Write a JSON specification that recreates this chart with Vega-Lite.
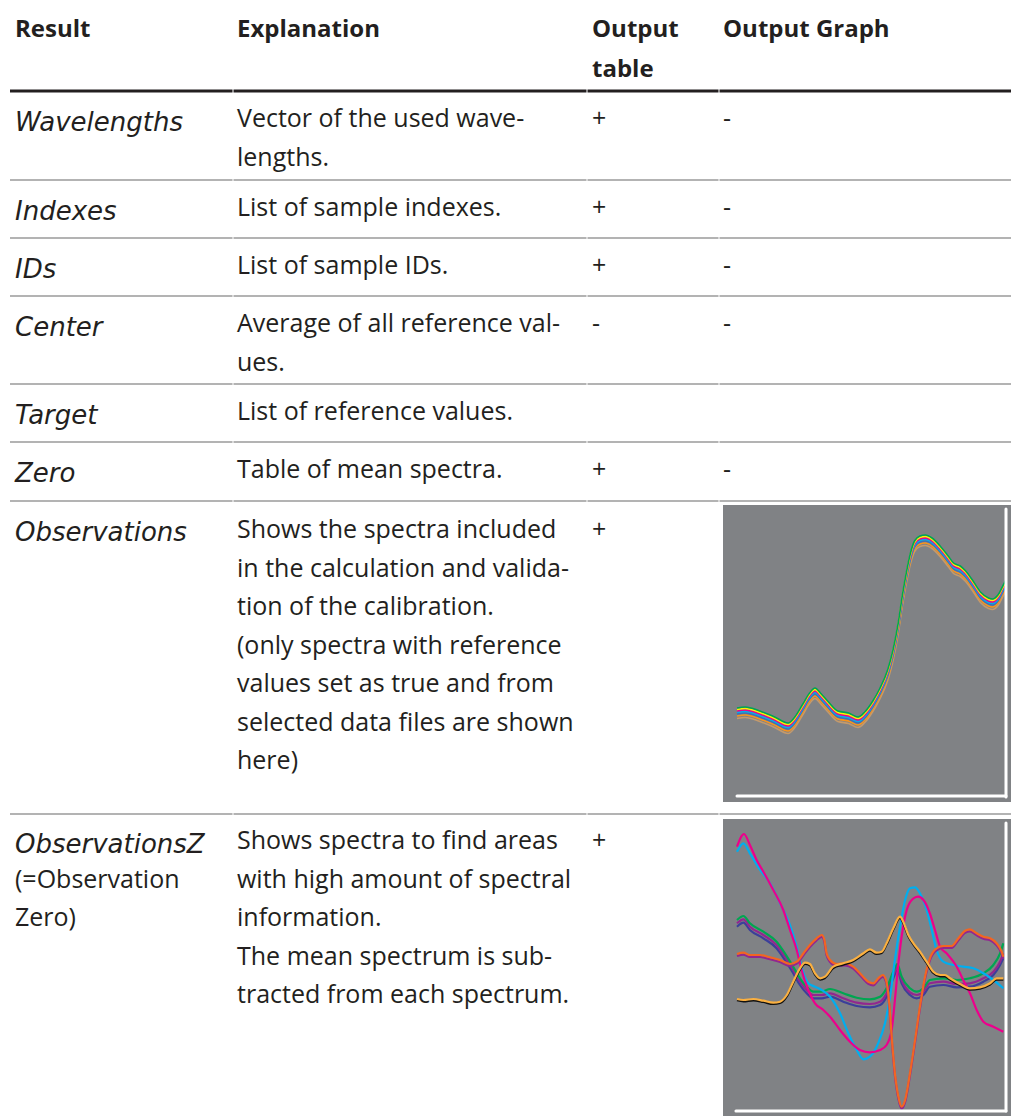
{
  "$schema": "https://vega.github.io/schema/vega-lite/v6.json",
  "width": 1011,
  "height": 1119,
  "autosize": {"type": "none"},
  "padding": 0,
  "background": "white",
  "config": {"view": {"stroke": null}},
  "datasets": {
    "panels": [
      {"x": 723, "x2": 1011, "y": 505, "y2": 802},
      {"x": 723, "x2": 1011, "y": 819, "y2": 1116}
    ],
    "rules": [
      {"kind": "head", "y": 91, "x": [10, 233.5, 587.5, 719.5], "x2": [232.5, 586.5, 718.5, 1011]},
      {"kind": "body", "y": 180, "x": [10, 233.5, 587.5, 719.5], "x2": [232.5, 586.5, 718.5, 1011]},
      {"kind": "body", "y": 238, "x": [10, 233.5, 587.5, 719.5], "x2": [232.5, 586.5, 718.5, 1011]},
      {"kind": "body", "y": 296, "x": [10, 233.5, 587.5, 719.5], "x2": [232.5, 586.5, 718.5, 1011]},
      {"kind": "body", "y": 384, "x": [10, 233.5, 587.5, 719.5], "x2": [232.5, 586.5, 718.5, 1011]},
      {"kind": "body", "y": 442, "x": [10, 233.5, 587.5, 719.5], "x2": [232.5, 586.5, 718.5, 1011]},
      {"kind": "body", "y": 501, "x": [10, 233.5, 587.5, 719.5], "x2": [232.5, 586.5, 718.5, 1011]},
      {"kind": "body", "y": 814, "x": [10, 233.5, 587.5, 719.5], "x2": [232.5, 586.5, 718.5, 1011]}
    ],
    "cells": [
      {"kind": "head", "x": 15, "y": 37, "t": "Result"},
      {"kind": "head", "x": 237, "y": 37, "t": "Explanation"},
      {"kind": "head", "x": 592, "y": 37, "t": "Output"},
      {"kind": "head", "x": 592, "y": 77, "t": "table"},
      {"kind": "head", "x": 723, "y": 37, "t": "Output Graph"},
      {"kind": "label", "x": 15, "y": 131, "t": "Wavelengths"},
      {"kind": "label", "x": 15, "y": 220, "t": "Indexes"},
      {"kind": "label", "x": 15, "y": 278, "t": "IDs"},
      {"kind": "label", "x": 15, "y": 336, "t": "Center"},
      {"kind": "label", "x": 15, "y": 424, "t": "Target"},
      {"kind": "label", "x": 15, "y": 482, "t": "Zero"},
      {"kind": "label", "x": 15, "y": 541, "t": "Observations"},
      {"kind": "label", "x": 15, "y": 853, "t": "ObservationsZ"},
      {"kind": "body", "x": 237, "y": 127, "t": "Vector of the used wave-"},
      {"kind": "body", "x": 237, "y": 166, "t": "lengths."},
      {"kind": "body", "x": 592, "y": 127, "t": "+"},
      {"kind": "body", "x": 723, "y": 127, "t": "-"},
      {"kind": "body", "x": 237, "y": 216, "t": "List of sample indexes."},
      {"kind": "body", "x": 592, "y": 216, "t": "+"},
      {"kind": "body", "x": 723, "y": 216, "t": "-"},
      {"kind": "body", "x": 237, "y": 274, "t": "List of sample IDs."},
      {"kind": "body", "x": 592, "y": 274, "t": "+"},
      {"kind": "body", "x": 723, "y": 274, "t": "-"},
      {"kind": "body", "x": 237, "y": 332, "t": "Average of all reference val-"},
      {"kind": "body", "x": 237, "y": 371, "t": "ues."},
      {"kind": "body", "x": 592, "y": 332, "t": "-"},
      {"kind": "body", "x": 723, "y": 332, "t": "-"},
      {"kind": "body", "x": 237, "y": 420, "t": "List of reference values."},
      {"kind": "body", "x": 237, "y": 478, "t": "Table of mean spectra."},
      {"kind": "body", "x": 592, "y": 478, "t": "+"},
      {"kind": "body", "x": 723, "y": 478, "t": "-"},
      {"kind": "body", "x": 237, "y": 538, "t": "Shows the spectra included"},
      {"kind": "body", "x": 237, "y": 576.5, "t": "in the calculation and valida-"},
      {"kind": "body", "x": 237, "y": 615, "t": "tion of the calibration."},
      {"kind": "body", "x": 237, "y": 653.5, "t": "(only spectra with reference"},
      {"kind": "body", "x": 237, "y": 692, "t": "values set as true and from"},
      {"kind": "body", "x": 237, "y": 730.5, "t": "selected data files are shown"},
      {"kind": "body", "x": 237, "y": 769, "t": "here)"},
      {"kind": "body", "x": 592, "y": 538, "t": "+"},
      {"kind": "body", "x": 237, "y": 849, "t": "Shows spectra to find areas"},
      {"kind": "body", "x": 237, "y": 887.5, "t": "with high amount of spectral"},
      {"kind": "body", "x": 237, "y": 926, "t": "information."},
      {"kind": "body", "x": 237, "y": 964.5, "t": "The mean spectrum is sub-"},
      {"kind": "body", "x": 237, "y": 1003, "t": "tracted from each spectrum."},
      {"kind": "body", "x": 592, "y": 849, "t": "+"},
      {"kind": "body", "x": 15, "y": 887.5, "t": "(=Observation"},
      {"kind": "body", "x": 15, "y": 926, "t": "Zero)"}
    ],
    "obs": [
      {"x": 0, "s1": 0.89, "s2": 0.875, "s3": 0.86, "s4": 0.845, "s5": 0.83, "s6": 0.81, "s7": 0.785},
      {"x": 3, "s1": 0.90, "s2": 0.885, "s3": 0.87, "s4": 0.855, "s5": 0.84, "s6": 0.82, "s7": 0.795},
      {"x": 8.5, "s1": 0.86, "s2": 0.845, "s3": 0.83, "s4": 0.815, "s5": 0.80, "s6": 0.78, "s7": 0.755},
      {"x": 14, "s1": 0.80, "s2": 0.785, "s3": 0.77, "s4": 0.755, "s5": 0.74, "s6": 0.72, "s7": 0.695},
      {"x": 19, "s1": 0.74, "s2": 0.725, "s3": 0.71, "s4": 0.695, "s5": 0.68, "s6": 0.66, "s7": 0.635},
      {"x": 21.5, "s1": 0.80, "s2": 0.785, "s3": 0.77, "s4": 0.755, "s5": 0.74, "s6": 0.72, "s7": 0.695},
      {"x": 24.5, "s1": 0.93, "s2": 0.915, "s3": 0.90, "s4": 0.885, "s5": 0.87, "s6": 0.85, "s7": 0.825},
      {"x": 27, "s1": 1.04, "s2": 1.025, "s3": 1.01, "s4": 0.995, "s5": 0.98, "s6": 0.96, "s7": 0.935},
      {"x": 29, "s1": 1.09, "s2": 1.075, "s3": 1.06, "s4": 1.045, "s5": 1.03, "s6": 1.01, "s7": 0.985},
      {"x": 31, "s1": 1.04, "s2": 1.025, "s3": 1.01, "s4": 0.995, "s5": 0.98, "s6": 0.96, "s7": 0.935},
      {"x": 34, "s1": 0.95, "s2": 0.935, "s3": 0.92, "s4": 0.905, "s5": 0.89, "s6": 0.87, "s7": 0.845},
      {"x": 37.5, "s1": 0.86, "s2": 0.845, "s3": 0.83, "s4": 0.815, "s5": 0.80, "s6": 0.78, "s7": 0.755},
      {"x": 41.5, "s1": 0.84, "s2": 0.825, "s3": 0.81, "s4": 0.795, "s5": 0.78, "s6": 0.76, "s7": 0.735},
      {"x": 45, "s1": 0.80, "s2": 0.785, "s3": 0.77, "s4": 0.755, "s5": 0.74, "s6": 0.72, "s7": 0.695},
      {"x": 47.5, "s1": 0.85, "s2": 0.835, "s3": 0.82, "s4": 0.805, "s5": 0.79, "s6": 0.77, "s7": 0.745},
      {"x": 50.5, "s1": 0.96, "s2": 0.945, "s3": 0.93, "s4": 0.915, "s5": 0.90, "s6": 0.88, "s7": 0.855},
      {"x": 53, "s1": 1.08, "s2": 1.065, "s3": 1.05, "s4": 1.035, "s5": 1.02, "s6": 1.00, "s7": 0.975},
      {"x": 56, "s1": 1.27, "s2": 1.255, "s3": 1.24, "s4": 1.225, "s5": 1.21, "s6": 1.19, "s7": 1.165},
      {"x": 58, "s1": 1.47, "s2": 1.455, "s3": 1.44, "s4": 1.425, "s5": 1.41, "s6": 1.39, "s7": 1.365},
      {"x": 60, "s1": 1.75, "s2": 1.735, "s3": 1.72, "s4": 1.705, "s5": 1.69, "s6": 1.67, "s7": 1.645},
      {"x": 61.5, "s1": 2.02, "s2": 2.005, "s3": 1.99, "s4": 1.975, "s5": 1.96, "s6": 1.94, "s7": 1.915},
      {"x": 63, "s1": 2.25, "s2": 2.235, "s3": 2.22, "s4": 2.205, "s5": 2.19, "s6": 2.17, "s7": 2.145},
      {"x": 64.5, "s1": 2.44, "s2": 2.425, "s3": 2.41, "s4": 2.395, "s5": 2.38, "s6": 2.36, "s7": 2.335},
      {"x": 66, "s1": 2.56, "s2": 2.545, "s3": 2.53, "s4": 2.515, "s5": 2.50, "s6": 2.48, "s7": 2.455},
      {"x": 68, "s1": 2.61, "s2": 2.595, "s3": 2.58, "s4": 2.565, "s5": 2.55, "s6": 2.53, "s7": 2.505},
      {"x": 70, "s1": 2.62, "s2": 2.605, "s3": 2.59, "s4": 2.575, "s5": 2.56, "s6": 2.54, "s7": 2.515},
      {"x": 72.5, "s1": 2.59, "s2": 2.575, "s3": 2.56, "s4": 2.545, "s5": 2.53, "s6": 2.51, "s7": 2.485},
      {"x": 75.5, "s1": 2.51, "s2": 2.495, "s3": 2.48, "s4": 2.465, "s5": 2.45, "s6": 2.43, "s7": 2.405},
      {"x": 78.5, "s1": 2.41, "s2": 2.395, "s3": 2.38, "s4": 2.365, "s5": 2.35, "s6": 2.33, "s7": 2.305},
      {"x": 80.5, "s1": 2.34, "s2": 2.325, "s3": 2.31, "s4": 2.295, "s5": 2.28, "s6": 2.26, "s7": 2.235},
      {"x": 83, "s1": 2.31, "s2": 2.295, "s3": 2.28, "s4": 2.265, "s5": 2.25, "s6": 2.23, "s7": 2.205},
      {"x": 85, "s1": 2.26, "s2": 2.245, "s3": 2.23, "s4": 2.215, "s5": 2.20, "s6": 2.18, "s7": 2.155},
      {"x": 87.5, "s1": 2.17, "s2": 2.155, "s3": 2.14, "s4": 2.125, "s5": 2.11, "s6": 2.09, "s7": 2.065},
      {"x": 90.5, "s1": 2.05, "s2": 2.035, "s3": 2.02, "s4": 2.005, "s5": 1.99, "s6": 1.97, "s7": 1.945},
      {"x": 93.5, "s1": 1.99, "s2": 1.975, "s3": 1.96, "s4": 1.945, "s5": 1.93, "s6": 1.91, "s7": 1.885},
      {"x": 95, "s1": 1.98, "s2": 1.965, "s3": 1.95, "s4": 1.935, "s5": 1.92, "s6": 1.90, "s7": 1.875},
      {"x": 97, "s1": 2.02, "s2": 2.005, "s3": 1.99, "s4": 1.975, "s5": 1.96, "s6": 1.94, "s7": 1.915},
      {"x": 99, "s1": 2.12, "s2": 2.105, "s3": 2.09, "s4": 2.075, "s5": 2.06, "s6": 2.04, "s7": 2.015},
      {"x": 100, "s1": 2.17, "s2": 2.155, "s3": 2.14, "s4": 2.125, "s5": 2.11, "s6": 2.09, "s7": 2.065}
    ],
    "obsAxes": [
      {"x": 0, "x2": 100, "y": 0.01, "y2": 0.01},
      {"x": 100, "x2": 100, "y": 0, "y2": 2.88}
    ],
    "obsz": [
      {"s": "blue", "x": [0, 2.4, 4.8, 9.8, 14.7, 17.8, 20.9, 23.4, 25.9, 28.4, 31.5, 34.6, 39.5, 44.5, 49.4, 53.2, 55.6, 58.1, 59.6, 61.2, 64.3, 66.8, 69.3, 71.7, 76.7, 81.7, 86.6, 91.6, 95.3, 97.8, 99.0],
        "v": [0.383, 0.423, 0.350, 0.267, 0.167, 0.050, -0.083, -0.200, -0.283, -0.333, -0.333, -0.317, -0.367, -0.410, -0.423, -0.400, -0.317, -0.133, -0.050, -0.183, -0.300, -0.333, -0.300, -0.217, -0.200, -0.223, -0.217, -0.167, -0.100, 0.000, 0.067]},
      {"s": "purple", "x": [0, 2.4, 4.8, 9.8, 14.7, 17.8, 20.9, 23.4, 25.9, 28.4, 31.5, 34.6, 39.5, 44.5, 49.4, 53.2, 55.6, 58.1, 59.6, 61.2, 64.3, 66.8, 69.3, 71.7, 76.7, 81.7, 86.6, 91.6, 95.3, 97.8, 99.0],
        "v": [0.417, 0.457, 0.383, 0.300, 0.200, 0.083, -0.050, -0.167, -0.250, -0.300, -0.300, -0.283, -0.333, -0.377, -0.390, -0.367, -0.283, -0.100, -0.017, -0.150, -0.273, -0.300, -0.267, -0.183, -0.167, -0.190, -0.183, -0.133, -0.067, 0.033, 0.117]},
      {"s": "green", "x": [0, 2.4, 4.8, 9.8, 14.7, 17.8, 20.9, 23.4, 25.9, 28.4, 31.5, 34.6, 39.5, 44.5, 49.4, 53.2, 55.6, 58.1, 59.6, 61.2, 64.3, 66.8, 69.3, 71.7, 76.7, 81.7, 86.6, 91.6, 95.3, 97.8, 99.0],
        "v": [0.450, 0.490, 0.417, 0.333, 0.233, 0.117, -0.017, -0.133, -0.217, -0.267, -0.267, -0.240, -0.283, -0.327, -0.343, -0.317, -0.233, -0.067, 0.010, -0.117, -0.233, -0.267, -0.233, -0.150, -0.133, -0.150, -0.133, -0.083, 0.000, 0.117, 0.217]},
      {"s": "cyan", "x": [0, 2.4, 4.8, 8.6, 12.3, 16.0, 19.7, 22.2, 24.0, 26.5, 29.0, 31.5, 34.6, 38.3, 41.4, 44.5, 47.0, 49.4, 52.5, 55.0, 56.9, 58.7, 60.6, 62.5, 64.3, 66.2, 68.0, 70.5, 72.4, 74.2, 76.7, 80.4, 84.1, 87.9, 91.6, 95.3, 99.0],
        "v": [1.133, 1.217, 1.117, 0.950, 0.817, 0.617, 0.400, 0.183, -0.017, -0.183, -0.217, -0.250, -0.317, -0.483, -0.683, -0.850, -0.943, -0.917, -0.783, -0.583, -0.317, 0.050, 0.383, 0.650, 0.767, 0.777, 0.717, 0.550, 0.350, 0.150, 0.033, 0.000, -0.017, -0.033, -0.083, -0.150, -0.233]},
      {"s": "magenta", "x": [0, 2.6, 4.8, 7.3, 9.8, 13.5, 17.2, 19.7, 22.2, 24.0, 26.5, 29.0, 32.1, 34.6, 38.3, 42.0, 45.7, 49.4, 53.2, 55.6, 57.5, 58.7, 60.0, 61.2, 63.1, 65.6, 67.4, 69.3, 71.7, 73.6, 75.5, 77.9, 81.7, 84.1, 86.6, 89.1, 91.6, 95.3, 99.0],
        "v": [1.183, 1.310, 1.200, 1.050, 0.933, 0.750, 0.550, 0.350, 0.150, -0.050, -0.250, -0.383, -0.450, -0.517, -0.650, -0.767, -0.850, -0.873, -0.850, -0.800, -0.650, -0.350, 0.017, 0.283, 0.550, 0.667, 0.683, 0.650, 0.517, 0.350, 0.183, 0.117, -0.017, -0.150, -0.283, -0.450, -0.567, -0.617, -0.667]},
      {"s": "violet", "x": [0, 2.4, 4.8, 8.6, 12.3, 16.0, 19.7, 22.2, 24.7, 27.1, 29.6, 31.5, 32.5, 33.3, 34.6, 37.1, 40.1, 43.2, 46.3, 48.8, 50.7, 52.5, 54.2, 55.4, 56.6, 57.5, 58.7, 60.0, 61.2, 62.5, 64.3, 66.2, 68.0, 69.9, 71.7, 74.2, 76.7, 79.8, 82.3, 84.8, 86.6, 89.1, 91.6, 94.1, 96.5, 98.4, 99.0],
        "v": [0.090, 0.103, 0.080, 0.080, 0.057, 0.030, -0.010, 0.013, 0.097, 0.180, 0.247, 0.280, 0.230, 0.097, 0.030, -0.010, -0.003, -0.037, -0.120, -0.187, -0.203, -0.153, -0.120, -0.170, -0.403, -0.737, -1.103, -1.337, -1.437, -1.370, -1.103, -0.770, -0.437, -0.137, 0.047, 0.147, 0.170, 0.170, 0.247, 0.323, 0.337, 0.297, 0.263, 0.247, 0.197, 0.113, 0.063]},
      {"s": "orange", "x": [0, 2.4, 4.8, 8.6, 12.3, 16.0, 19.7, 22.2, 24.7, 27.1, 29.6, 31.5, 32.5, 33.3, 34.6, 37.1, 40.1, 43.2, 46.3, 48.8, 50.7, 52.5, 54.2, 55.4, 56.6, 57.5, 58.7, 60.0, 61.2, 62.5, 64.3, 66.2, 68.0, 69.9, 71.7, 74.2, 76.7, 79.8, 82.3, 84.8, 86.6, 89.1, 91.6, 94.1, 96.5, 98.4, 99.0],
        "v": [0.110, 0.123, 0.100, 0.100, 0.077, 0.050, 0.010, 0.033, 0.117, 0.200, 0.267, 0.300, 0.250, 0.117, 0.050, 0.010, 0.017, -0.017, -0.100, -0.167, -0.183, -0.133, -0.100, -0.150, -0.383, -0.717, -1.083, -1.317, -1.417, -1.350, -1.083, -0.750, -0.417, -0.117, 0.067, 0.167, 0.190, 0.190, 0.267, 0.343, 0.357, 0.317, 0.283, 0.267, 0.217, 0.133, 0.083]},
      {"s": "black", "x": [0, 2.4, 6.1, 9.8, 13.5, 16.0, 18.5, 20.9, 23.4, 25.3, 27.1, 29.0, 30.9, 32.7, 35.8, 39.5, 43.2, 47.0, 49.4, 51.9, 53.8, 55.6, 58.1, 60.6, 61.8, 63.7, 65.6, 68.0, 70.5, 73.0, 75.5, 77.3, 79.2, 82.9, 86.6, 90.3, 94.1, 96.5, 99.0],
        "v": [-0.353, -0.363, -0.353, -0.370, -0.390, -0.380, -0.313, -0.180, -0.046, 0.010, -0.003, -0.096, -0.146, -0.130, -0.030, 0.004, 0.037, 0.104, 0.144, 0.110, 0.120, 0.204, 0.354, 0.470, 0.420, 0.287, 0.204, 0.120, 0.020, -0.080, -0.113, -0.113, -0.146, -0.203, -0.246, -0.236, -0.196, -0.146, -0.146]},
      {"s": "gold", "x": [0, 2.4, 6.1, 9.8, 13.5, 16.0, 18.5, 20.9, 23.4, 25.3, 27.1, 29.0, 30.9, 32.7, 35.8, 39.5, 43.2, 47.0, 49.4, 51.9, 53.8, 55.6, 58.1, 60.6, 61.8, 63.7, 65.6, 68.0, 70.5, 73.0, 75.5, 77.3, 79.2, 82.9, 86.6, 90.3, 94.1, 96.5, 99.0],
        "v": [-0.340, -0.350, -0.340, -0.357, -0.377, -0.367, -0.300, -0.167, -0.033, 0.023, 0.010, -0.083, -0.133, -0.117, -0.017, 0.017, 0.050, 0.117, 0.157, 0.123, 0.133, 0.217, 0.367, 0.483, 0.433, 0.300, 0.217, 0.133, 0.033, -0.067, -0.100, -0.100, -0.133, -0.190, -0.233, -0.223, -0.183, -0.133, -0.133]}
    ],
    "obszAxes": [
      {"x": -0.4, "x2": 100, "y": -1.46, "y2": -1.46},
      {"x": 100, "x2": 100, "y": -1.46, "y2": 1.42}
    ]
  },
  "layer": [
    {
      "layer": [
        {
          "data": {"name": "panels"},
          "mark": {"type": "rect", "fill": "#808285"},
          "encoding": {
            "x": {"field": "x", "type": "quantitative", "scale": {"domain": [0, 1011], "range": [0, 1011], "nice": false, "zero": false}, "axis": null},
            "x2": {"field": "x2"},
            "y": {"field": "y", "type": "quantitative", "scale": {"domain": [0, 1119], "range": [0, 1119], "nice": false, "zero": false}, "axis": null},
            "y2": {"field": "y2"}
          }
        },
        {
          "data": {"name": "rules"},
          "transform": [{"flatten": ["x", "x2"]}, {"filter": "datum.kind === 'body'"}],
          "mark": {"type": "rule", "stroke": "#9a9a9a", "strokeWidth": 1.5},
          "encoding": {
            "x": {"field": "x", "type": "quantitative", "axis": null},
            "x2": {"field": "x2"},
            "y": {"field": "y", "type": "quantitative", "axis": null}
          }
        },
        {
          "data": {"name": "rules"},
          "transform": [{"flatten": ["x", "x2"]}, {"filter": "datum.kind === 'head'"}],
          "mark": {"type": "rule", "stroke": "#231f20", "strokeWidth": 3},
          "encoding": {
            "x": {"field": "x", "type": "quantitative", "axis": null},
            "x2": {"field": "x2"},
            "y": {"field": "y", "type": "quantitative", "axis": null}
          }
        },
        {
          "data": {"name": "cells"},
          "transform": [{"filter": "datum.kind === 'head'"}],
          "mark": {"type": "text", "align": "left", "baseline": "alphabetic", "font": "Open Sans", "fontSize": 24, "fontWeight": "bold", "fill": "#231f20"},
          "encoding": {
            "x": {"field": "x", "type": "quantitative", "axis": null},
            "y": {"field": "y", "type": "quantitative", "axis": null},
            "text": {"field": "t"}
          }
        },
        {
          "data": {"name": "cells"},
          "transform": [{"filter": "datum.kind === 'label'"}],
          "mark": {"type": "text", "align": "left", "baseline": "alphabetic", "font": "DejaVu Sans", "fontSize": 26, "fontStyle": "italic", "fill": "#231f20"},
          "encoding": {
            "x": {"field": "x", "type": "quantitative", "axis": null},
            "y": {"field": "y", "type": "quantitative", "axis": null},
            "text": {"field": "t"}
          }
        },
        {
          "data": {"name": "cells"},
          "transform": [{"filter": "datum.kind === 'body'"}],
          "mark": {"type": "text", "align": "left", "baseline": "alphabetic", "font": "Open Sans", "fontSize": 25, "fill": "#231f20"},
          "encoding": {
            "x": {"field": "x", "type": "quantitative", "axis": null},
            "y": {"field": "y", "type": "quantitative", "axis": null},
            "text": {"field": "t"}
          }
        }
      ]
    },
    {
      "layer": [
        {
          "data": {"name": "obs"},
          "transform": [{"fold": ["s7", "s6", "s5", "s4", "s3", "s2", "s1"], "as": ["series", "value"]}],
          "mark": {"type": "line", "strokeWidth": 1.6, "interpolate": "monotone"},
          "encoding": {
            "x": {"field": "x", "type": "quantitative", "scale": {"domain": [0, 100], "range": [737, 1006], "nice": false, "zero": false}, "axis": null},
            "y": {"field": "value", "type": "quantitative", "scale": {"domain": [0, 2.88], "range": [797, 509], "nice": false, "zero": false}, "axis": null},
            "color": {"field": "series", "type": "nominal", "scale": {"domain": ["s1", "s2", "s3", "s4", "s5", "s6", "s7"], "range": ["#00a651", "#fff200", "#ec008c", "#00aeef", "#3d6fb6", "#f7941d", "#c49a6c"]}, "legend": null}
          }
        },
        {
          "data": {"name": "obsAxes"},
          "mark": {"type": "rule", "stroke": "white", "strokeWidth": 3, "strokeCap": "round"},
          "encoding": {
            "x": {"field": "x", "type": "quantitative", "axis": null},
            "x2": {"field": "x2"},
            "y": {"field": "y", "type": "quantitative", "axis": null},
            "y2": {"field": "y2"}
          }
        }
      ]
    },
    {
      "layer": [
        {
          "data": {"name": "obsz"},
          "transform": [{"flatten": ["x", "v"]}],
          "mark": {"type": "line", "interpolate": "monotone"},
          "encoding": {
            "x": {"field": "x", "type": "quantitative", "scale": {"domain": [0, 100], "range": [737, 1006], "nice": false, "zero": false}, "axis": null},
            "y": {"field": "v", "type": "quantitative", "scale": {"domain": [-1.46, 1.42], "range": [1111, 823], "nice": false, "zero": false}, "axis": null},
            "color": {"field": "s", "type": "nominal", "scale": {"domain": ["blue", "purple", "green", "cyan", "magenta", "violet", "orange", "black", "gold"], "range": ["#3b3f9a", "#92278f", "#00a651", "#00aeef", "#ec008c", "#92278f", "#f26522", "#111111", "#fbb040"]}, "legend": null},
            "strokeWidth": {"field": "s", "type": "nominal", "scale": {"domain": ["blue", "purple", "green", "cyan", "magenta", "violet", "orange", "black", "gold"], "range": [2.2, 2.2, 2.2, 2.2, 2.2, 2.2, 2.2, 3.2, 2.2]}, "legend": null}
          }
        },
        {
          "data": {"name": "obszAxes"},
          "mark": {"type": "rule", "stroke": "white", "strokeWidth": 3, "strokeCap": "round"},
          "encoding": {
            "x": {"field": "x", "type": "quantitative", "axis": null},
            "x2": {"field": "x2"},
            "y": {"field": "y", "type": "quantitative", "axis": null},
            "y2": {"field": "y2"}
          }
        }
      ]
    }
  ],
  "resolve": {"scale": {"x": "independent", "y": "independent", "color": "independent", "strokeWidth": "independent"}}
}
